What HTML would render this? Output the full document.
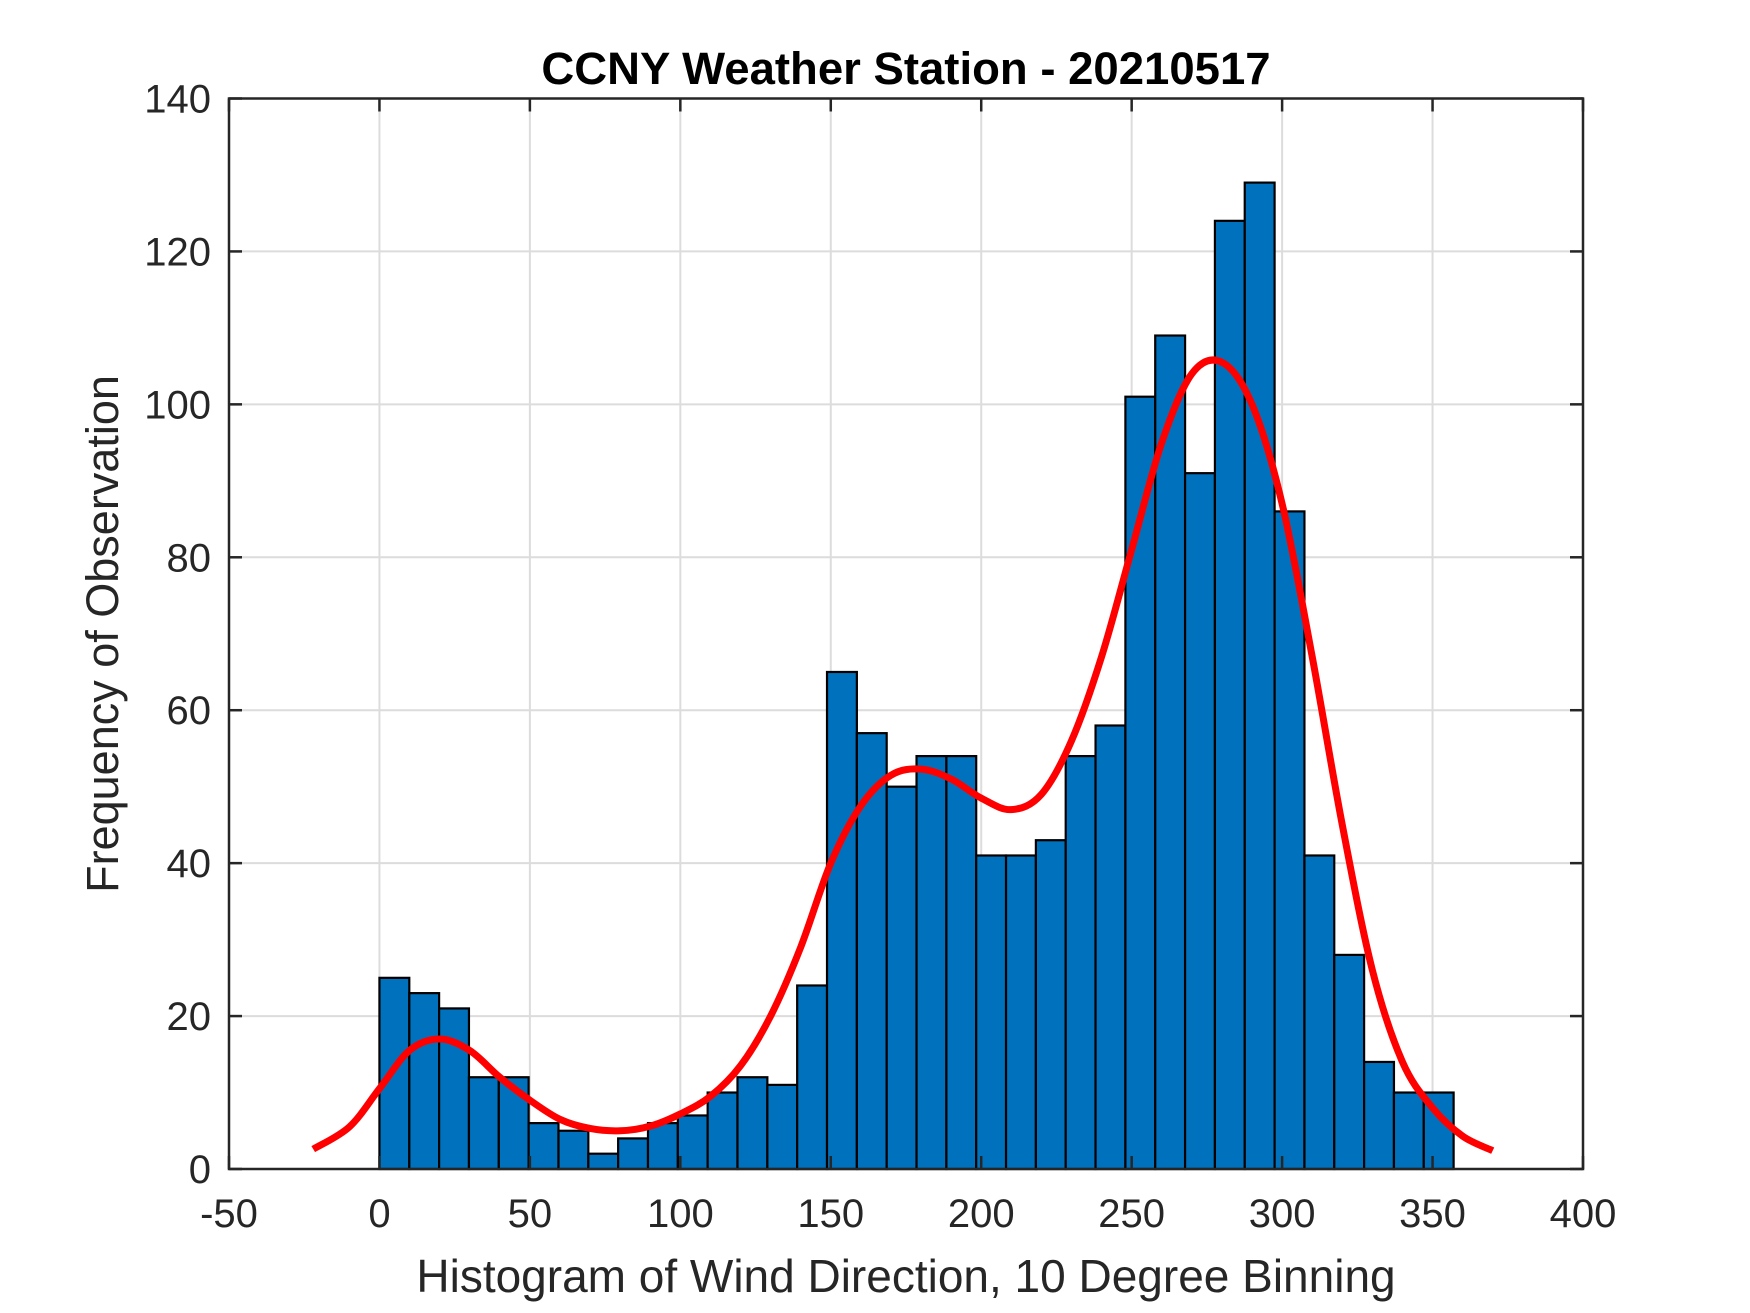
<!DOCTYPE html>
<html><head><meta charset="utf-8"><style>
html,body{margin:0;padding:0;background:#fff;}
svg{display:block;font-family:"Liberation Sans",Arial,sans-serif;}
</style></head><body>
<svg id="chart" width="1750" height="1313" viewBox="0 0 1750 1313" xmlns="http://www.w3.org/2000/svg">
<rect width="1750" height="1313" fill="#fff"/>
<g id="grid"></g><g id="bars"></g><g id="curve"></g><g id="axes"></g>
<text x="906" y="84" text-anchor="middle" font-size="45.5" font-weight="bold" fill="#000">CCNY Weather Station - 20210517</text>
<text x="906" y="1292" text-anchor="middle" font-size="46" fill="#262626">Histogram of Wind Direction, 10 Degree Binning</text>
<text transform="translate(118,634) rotate(-90)" text-anchor="middle" font-size="45" fill="#262626">Frequency of Observation</text>
</svg>
<script>
const binEdges = [0,9.92,19.83,29.75,39.67,49.58,59.5,69.42,79.33,89.25,99.17,109.08,119,128.92,138.83,148.75,158.67,168.58,178.5,188.42,198.33,208.25,218.17,228.08,238,247.92,257.83,267.75,277.67,287.58,297.5,307.42,317.33,327.25,337.17,347.08,357];
const counts = [25,23,21,12,12,6,5,2,4,6,7,10,12,11,24,65,57,50,54,54,41,41,43,54,58,101,109,91,124,129,86,41,28,14,10,10];
const fitX = [-22,-10,0,10,20,30,40,50,60,70,80,90,100,110,120,130,140,150,160,170,180,190,200,210,220,230,240,250,260,270,280,290,300,310,320,330,340,350,360,370];
const fitY = [2.6,5.5,10.5,15.5,17,15.5,12,9,6.5,5.3,5,5.6,7.2,9.5,13.5,20,29,40,47.5,51.5,52.3,51,48.5,47,49,56,67,81,95,104,105.5,100,87,67,45,26,14,8,4.3,2.4];
const xTicks = [-50,0,50,100,150,200,250,300,350,400];
const yTicks = [0,20,40,60,80,100,120,140];

const L=229,R=1583,T=98.5,B=1169;
const xs=v=>L+(v+50)/450*(R-L);
const ys=v=>B-v/140*(B-T);
const NS="http://www.w3.org/2000/svg";
function mk(tag,attrs,parent){const e=document.createElementNS(NS,tag);for(const k in attrs)e.setAttribute(k,attrs[k]);parent.appendChild(e);return e;}
const grid=document.getElementById('grid'),bars=document.getElementById('bars'),curve=document.getElementById('curve'),axes=document.getElementById('axes');
xTicks.forEach(t=>{const l=mk('line',{x1:xs(t),x2:xs(t),y1:T,y2:B,stroke:'#dcdcdc','stroke-width':2},grid);

});
yTicks.forEach(t=>{const l=mk('line',{x1:L,x2:R,y1:ys(t),y2:ys(t),stroke:'#dcdcdc','stroke-width':2},grid);

});
counts.forEach((c,i)=>{const x0=xs(binEdges[i]),x1=xs(binEdges[i+1]);
const r=mk('rect',{x:x0,y:ys(c),width:x1-x0,height:ys(0)-ys(c),fill:'#0072bd',stroke:'#000','stroke-width':2.2},bars);

});
const pts=fitX.map((x,i)=>[xs(x),ys(fitY[i])]);
let d='M'+pts[0][0]+','+pts[0][1];
for(let i=0;i<pts.length-1;i++){const p0=pts[Math.max(0,i-1)],p1=pts[i],p2=pts[i+1],p3=pts[Math.min(pts.length-1,i+2)];
d+=' C'+(p1[0]+(p2[0]-p0[0])/6)+','+(p1[1]+(p2[1]-p0[1])/6)+' '+(p2[0]-(p3[0]-p1[0])/6)+','+(p2[1]-(p3[1]-p1[1])/6)+' '+p2[0]+','+p2[1];}
const pc=mk('path',{d:d,fill:'none',stroke:'#ff0000','stroke-width':7,'stroke-linejoin':'round'},curve);


const box=mk('rect',{x:L,y:T,width:R-L,height:B-T,fill:'none',stroke:'#262626','stroke-width':2.5},axes);


xTicks.forEach(t=>{mk('line',{x1:xs(t),x2:xs(t),y1:B,y2:B-13,stroke:'#262626','stroke-width':2.5},axes);mk('line',{x1:xs(t),x2:xs(t),y1:T,y2:T+13,stroke:'#262626','stroke-width':2.5},axes);
const tx=mk('text',{x:xs(t),y:B+58,'text-anchor':'middle','font-size':40,fill:'#262626'},axes);tx.textContent=t;

});
yTicks.forEach(t=>{mk('line',{x1:L,x2:L+13,y1:ys(t),y2:ys(t),stroke:'#262626','stroke-width':2.5},axes);mk('line',{x1:R,x2:R-13,y1:ys(t),y2:ys(t),stroke:'#262626','stroke-width':2.5},axes);
const tx=mk('text',{x:L-18,y:ys(t)+14,'text-anchor':'end','font-size':40,fill:'#262626'},axes);tx.textContent=t;

});
</script>
</body></html>
